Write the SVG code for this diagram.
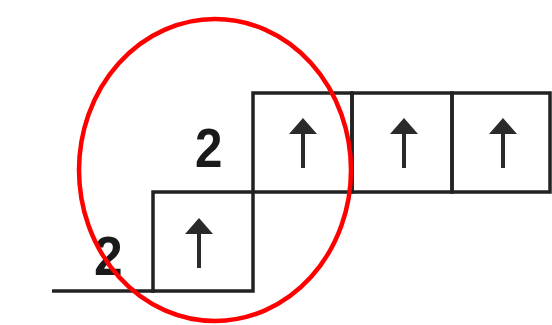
<svg xmlns="http://www.w3.org/2000/svg" width="552" height="325" viewBox="0 0 552 325">
<style>
.box{fill:none;stroke:#222;stroke-width:3.5}
.ln{stroke:#222;stroke-width:3.5;fill:none}
.arr{stroke:#2a2a2a;stroke-width:4;fill:none}
.head{fill:#2a2a2a}
.num{font-family:"Liberation Sans",Arial,sans-serif;font-weight:bold;font-size:56px;fill:#1a1a1a}
</style>
<defs>
<g id="up">
<line class="arr" x1="0" y1="10" x2="0" y2="50"/>
<polygon class="head" points="0,0 -14,16 14,16"/>
</g>
</defs>
<rect width="552" height="325" fill="#ffffff"/>
<g id="baseline"><line class="ln" x1="52" y1="291" x2="155" y2="291"/></g>
<g id="box-lower">
<rect class="box" x="153" y="192" width="100" height="99"/>
<use href="#up" x="199" y="218"/>
</g>
<g id="box-top1">
<rect class="box" x="253" y="93" width="99" height="99"/>
<use href="#up" x="303" y="118"/>
</g>
<g id="box-top2">
<rect class="box" x="352" y="93" width="100" height="99"/>
<use href="#up" x="404" y="118"/>
</g>
<g id="box-top3">
<rect class="box" x="452" y="93" width="98" height="99"/>
<use href="#up" x="503" y="118"/>
</g>
<g id="label-top"><text class="num" x="195" y="167" transform="translate(195 0) scale(0.88 1) translate(-195 0)">2</text></g>
<g id="label-lower"><text class="num" x="94" y="275" transform="translate(94 0) scale(0.92 1) translate(-94 0)">2</text></g>
<g id="highlight"><ellipse cx="215" cy="170" rx="136" ry="151" fill="none" stroke="#ff0000" stroke-width="4.5"/></g>
<g id="connectors"/>
</svg>
